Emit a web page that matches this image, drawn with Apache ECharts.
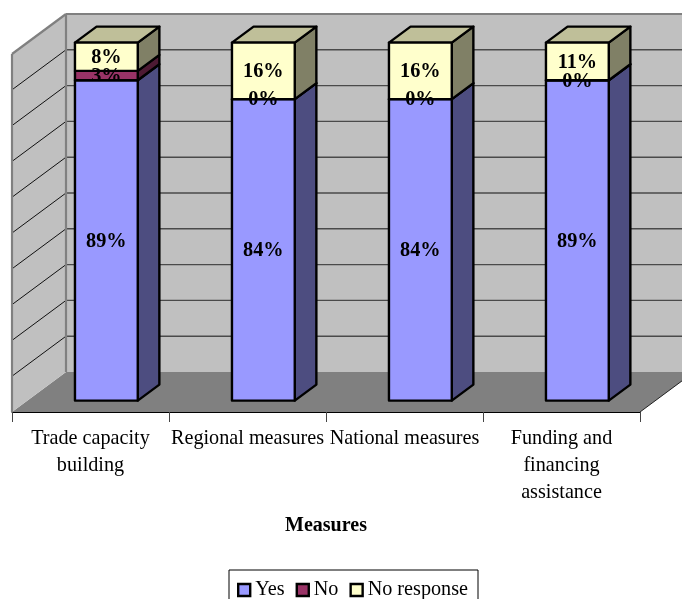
<!DOCTYPE html>
<html>
<head>
<meta charset="utf-8">
<script src="https://cdn.jsdelivr.net/npm/echarts@6/dist/echarts.min.js"></script>
<style>html,body{margin:0;padding:0;background:#fff}#c{width:682px;height:599px}</style>
</head>
<body>
<div id="c"></div>
<script>
const categories = ['Trade capacity\nbuilding', 'Regional measures', 'National measures', 'Funding and\nfinancing\nassistance'];
const yesValues = [89.47, 84.21, 84.21, 89.47];
const noValues = [2.63, 0, 0, 0];
const noResponseValues = [7.9, 15.79, 15.79, 10.53];
const gridTicks = [0, 10, 20, 30, 40, 50, 60, 70, 80, 90, 100];

const FONT = '"Liberation Serif","Times New Roman",serif';
const DX = 54, DY = 40;            // full floor depth in pixels
const BAR_FRONT = 0.285, BAR_BACK = 0.685, BAR_W = 0.4, BAR_SHIFT = 0.003;

function P(api, catPos, val, depth) {
  const band = api.size([1, 0])[0];
  const c = api.coord([0, val]);
  return [c[0] - band / 2 + catPos * band + depth * DX, c[1] - depth * DY];
}
function poly(points, fill, stroke, lw) {
  return { type: 'polygon', shape: { points }, style: { fill, stroke, lineWidth: lw, lineJoin: 'round' } };
}
function seg(a, b, stroke, lw) {
  return { type: 'line', shape: { x1: a[0], y1: a[1], x2: b[0], y2: b[1] }, style: { stroke, lineWidth: lw } };
}

function wallsItem(params, api) {
  const n = categories.length;
  const v = api.value(0);
  const kids = [];
  if (params.dataIndex === 0) {
    kids.push(poly([P(api, 0, 0, 0), P(api, 0, 0, 1), P(api, n, 0, 1), P(api, n, 0, 0)], '#808080', null, 0));
    kids.push(poly([P(api, 0, 100, 1), P(api, n, 100, 1), P(api, n, 0, 1), P(api, 0, 0, 1)], '#C0C0C0', null, 0));
    kids.push(poly([P(api, 0, 0, 0), P(api, 0, 100, 0), P(api, 0, 100, 1), P(api, 0, 0, 1)], '#C0C0C0', null, 0));
  }
  if (v > 0 && v < 100) {
    kids.push(seg(P(api, 0, v, 1), P(api, n, v, 1), '#4a4a4a', 1.4));
    kids.push(seg(P(api, 0, v, 0), P(api, 0, v, 1), '#111', 1));
  }
  if (params.dataIndex === gridTicks.length - 1) {
    kids.push(seg(P(api, 0, 100, 1), P(api, n, 100, 1), '#808080', 2.2));
    kids.push(seg(P(api, 0, 100, 1), P(api, 0, 0, 1), '#808080', 2.2));
    kids.push(seg(P(api, 0, 100, 0), P(api, 0, 100, 1), '#808080', 2.2));
    kids.push(seg(P(api, 0, 100, 0), P(api, 0, 0, 0), '#808080', 2.2));
    kids.push(seg(P(api, n, 0, 0), P(api, n, 0, 1), '#222', 1));
  }
  return { type: 'group', children: kids };
}

function barRenderer(front, side, top) {
  return function (params, api) {
    const i = api.value(0), s = api.value(1), e = api.value(2);
    const L = i + 0.5 - BAR_W / 2 + BAR_SHIFT, R = i + 0.5 + BAR_W / 2 + BAR_SHIFT;
    const kids = [];
    kids.push(poly([P(api, R, s, BAR_FRONT), P(api, R, s, BAR_BACK), P(api, R, e, BAR_BACK), P(api, R, e, BAR_FRONT)], side, '#000', 2.4));
    if (top) {
      kids.push(poly([P(api, L, e, BAR_FRONT), P(api, L, e, BAR_BACK), P(api, R, e, BAR_BACK), P(api, R, e, BAR_FRONT)], top, '#000', 2.4));
    }
    kids.push(poly([P(api, L, s, BAR_FRONT), P(api, R, s, BAR_FRONT), P(api, R, e, BAR_FRONT), P(api, L, e, BAR_FRONT)], front, '#000', 2.4));
    return { type: 'group', children: kids };
  };
}

function labelItem(params, api) {
  const i = api.value(0), s = api.value(1), e = api.value(2);
  const c = P(api, i + 0.5 + BAR_SHIFT, (s + e) / 2, BAR_FRONT);
  const base = P(api, i, s, BAR_FRONT);
  const text = {
    type: 'text',
    style: { text: Math.round(e - s) + '%', x: c[0], y: c[1] + 1, align: 'center', verticalAlign: 'middle',
             font: 'bold 20.3px ' + FONT, fill: '#000' }
  };
  const g = { type: 'group', children: [text] };
  if (e - s > 0.01) {
    // a label never spills below its own segment's lower edge
    g.clipPath = { type: 'rect', shape: { x: c[0] - 60, y: c[1] - 60, width: 120, height: base[1] - c[1] + 60 } };
  }
  return g;
}

function stackRows(values, below) {
  return values.map((v, i) => [i, below[i], below[i] + v]);
}
const yesRows = stackRows(yesValues, yesValues.map(() => 0));
const noRows = stackRows(noValues, yesValues);
const noRespRows = stackRows(noResponseValues, yesValues.map((v, i) => v + noValues[i]));

function legendEntry(name, color) {
  return { name, icon: 'rect', itemStyle: { color, borderColor: '#000', borderWidth: 2.4 } };
}

const chart = echarts.init(document.getElementById('c'), null, { renderer: 'canvas' });
chart.setOption({
  animation: false,
  backgroundColor: '#fff',
  textStyle: { fontFamily: FONT },
  grid: { left: 12, top: 54, width: 628, height: 358, containLabel: false },
  xAxis: {
    type: 'category', data: categories, boundaryGap: true,
    axisLine: { show: true, lineStyle: { color: '#000', width: 1 } },
    axisTick: { show: true, length: 10, lineStyle: { color: '#444', width: 1 }, alignWithLabel: false },
    axisLabel: { show: true, interval: 0, color: '#000', fontSize: 20.2, fontFamily: FONT, lineHeight: 27,
                 margin: 13, hideOverlap: false },
    name: 'Measures', nameLocation: 'middle', nameGap: 104,
    nameTextStyle: { color: '#000', fontSize: 20, fontWeight: 'bold', fontFamily: FONT }
  },
  yAxis: { type: 'value', min: 0, max: 100, show: false, splitLine: { show: false } },
  legend: {
    show: true, left: 229, top: 570, orient: 'horizontal',
    data: [legendEntry('Yes', '#9999FF'), legendEntry('No', '#993366'), legendEntry('No response', '#FFFFCC')],
    itemWidth: 12, itemHeight: 12, itemGap: 11,
    padding: [10, 10, 6, 8], borderColor: '#000', borderWidth: 1,
    textStyle: { color: '#000', fontSize: 20.2, fontFamily: FONT, padding: [0, 0, 0, 0] },
    selectedMode: false
  },
  series: [
    { type: 'custom', name: 'walls', silent: true, z: 1, renderItem: wallsItem,
      data: gridTicks.map(t => [t]), encode: { y: 0 } },
    { type: 'custom', name: 'Yes', z: 2, renderItem: barRenderer('#9999FF', '#4D4D80', null),
      data: yesRows, encode: { x: 0, y: [1, 2] } },
    { type: 'custom', name: 'No', z: 3, renderItem: barRenderer('#993366', '#4D1A33', null),
      data: noRows, encode: { x: 0, y: [1, 2] } },
    { type: 'custom', name: 'No response', z: 4, renderItem: barRenderer('#FFFFCC', '#808066', '#BFBF99'),
      data: noRespRows, encode: { x: 0, y: [1, 2] } },
    { type: 'custom', name: 'labels', z: 5, silent: true, renderItem: labelItem,
      data: yesRows.concat(noRows, noRespRows), encode: { x: 0, y: [1, 2] } }
  ]
});
</script>
</body>
</html>
